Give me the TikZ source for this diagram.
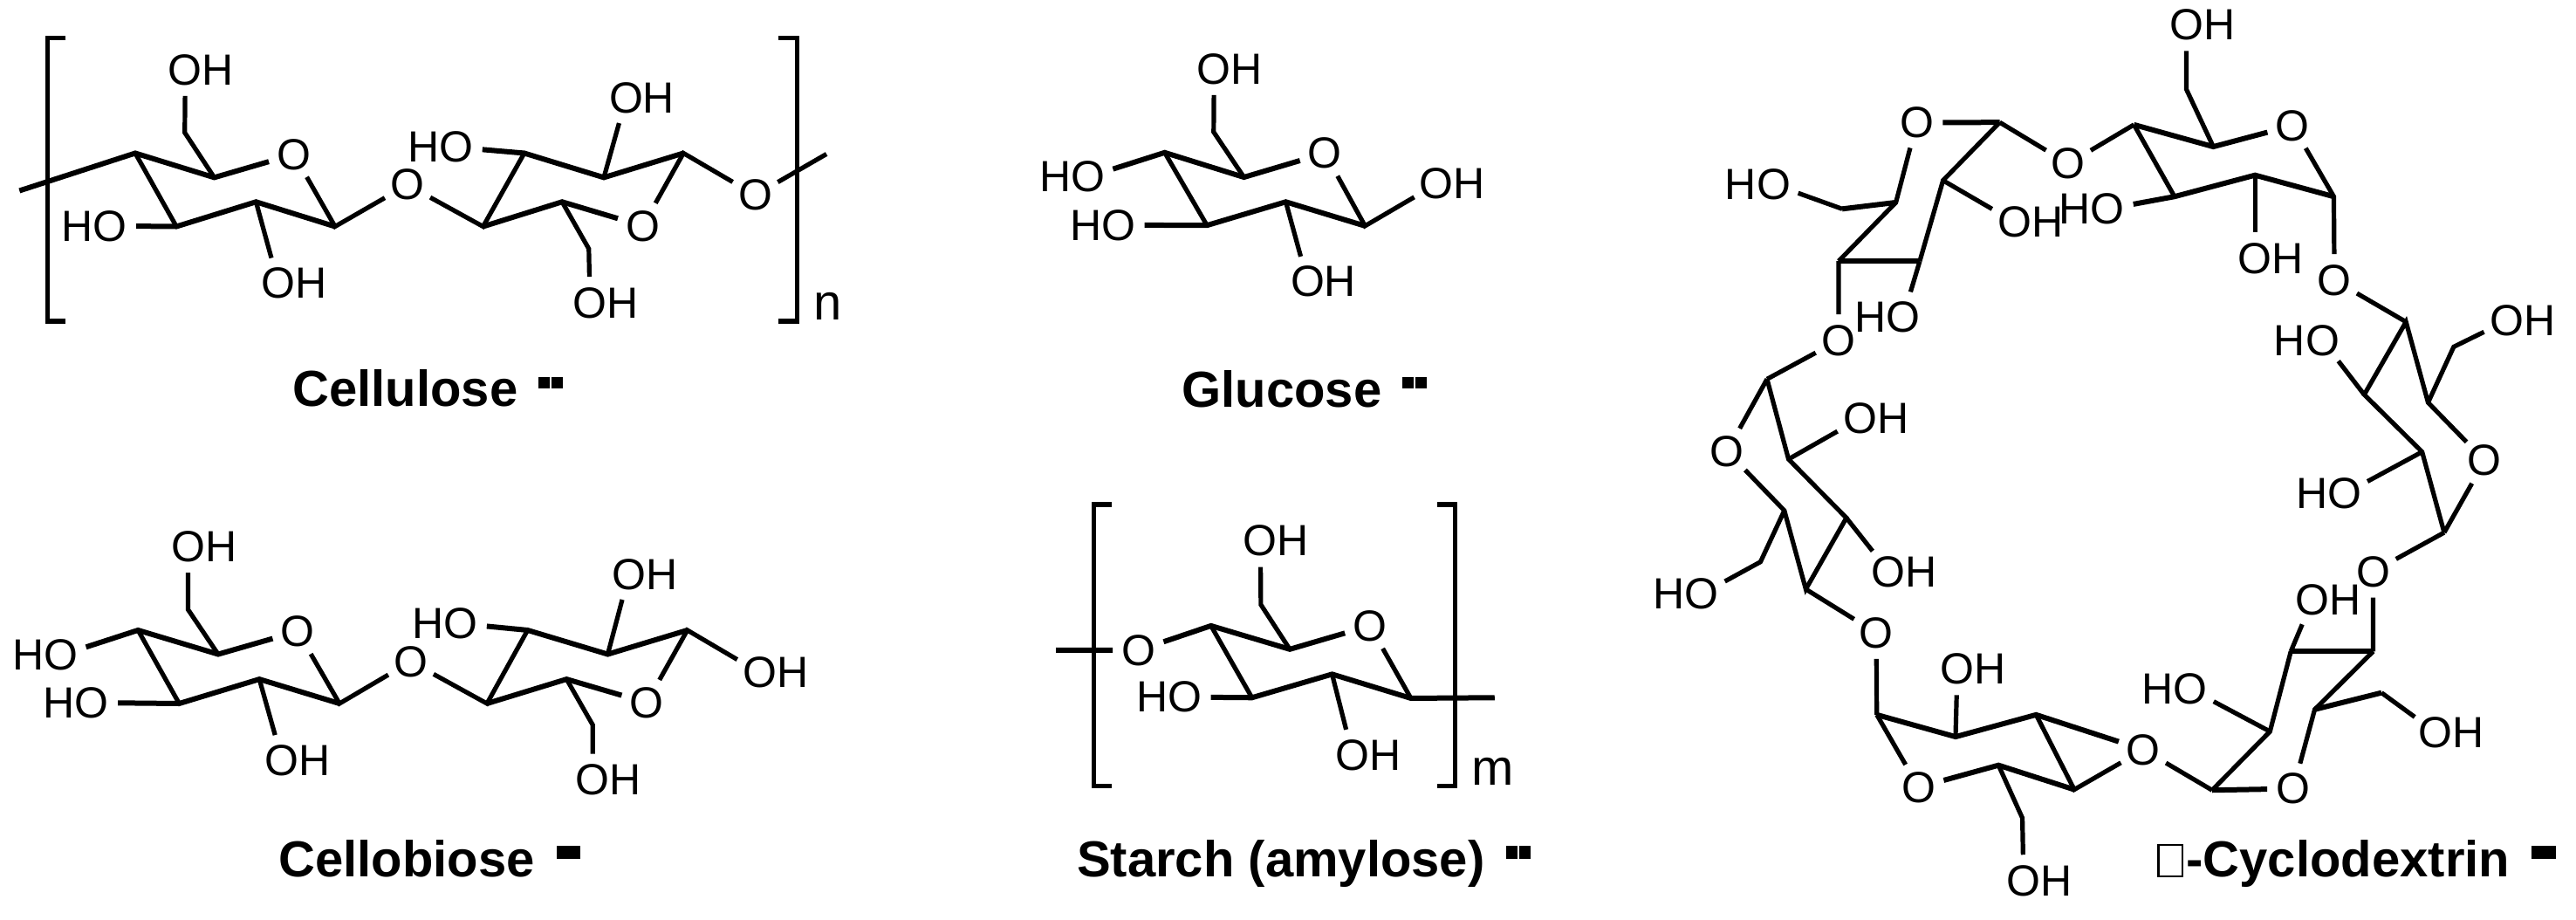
\documentclass[tikz,border=0pt]{standalone}
\usepackage{fontspec}
\setmainfont{Liberation Sans}
\tikzset{
  bond/.style={line width=2.6pt,line join=miter,line cap=butt},
  flat/.style={line width=3pt,line join=miter,line cap=butt},
  atom/.style={circle,minimum size=29.5pt,inner sep=0pt,font=\fontsize{25}{25}\selectfont},
  plain/.style={inner sep=0pt,anchor=base,font=\fontsize{29}{29}\selectfont},
  title/.style={inner sep=0pt,anchor=base,font=\bfseries\fontsize{29}{29}\selectfont}
}
\begin{document}
\begin{tikzpicture}
\path[fill=white,use as bounding box] (0pt,0pt) rectangle (1476pt,-527pt);

% ---------- Cellulose ----------
\begin{scope}[x=0.3189pt,y=-0.16807pt]
\coordinate (c1) at (243,522); \coordinate (c2) at (385,605); \coordinate (c3) at (602,772);
\coordinate (c4) at (460,688); \coordinate (c5) at (317,772); \coordinate (c6) at (332,452);
\coordinate (d1) at (868,772); \coordinate (d2) at (1010,688); \coordinate (d4) at (1228,522);
\coordinate (d5) at (1085,605); \coordinate (d6) at (942,522); \coordinate (d7) at (1058,848);
\coordinate (cfreeA) at (35,650); \coordinate (cfreeB) at (1485,525);
\node[atom] (cO1) at (528,526) {O};
\node[atom] (cO2) at (732,630) {O};
\node[atom] (cO3) at (1155,770) {O};
\node[atom] (cO4) at (1357,665) {O};
\node[atom] (cA) at (333,238) {O\rlap{H}};
\node[atom] (cB) at (198,770) {\llap{H}O};
\node[atom] (cC) at (500,965) {O\rlap{H}};
\node[atom] (cD) at (1060,1032) {O\rlap{H}};
\node[atom] (cE) at (1125,334) {O\rlap{H}};
\node[atom] (cF) at (820,502) {\llap{H}O};
\node[plain] (cn) at (1487,1090) {n};
\node[title] (cT) at (728,1385) {Cellulose};
\draw[flat] (cfreeA) -- (c1) -- (c2) -- (cO1);
\draw[flat] (cB) -- (c5) -- (c4) -- (c3);
\draw[flat] (cO3) -- (d2) -- (d1);
\draw[flat] (d4) -- (d5) -- (d6) -- (cF);
\draw[bond] (c1) -- (c5);
\draw[bond] (c2) -- (c6) -- (cA);
\draw[bond] (c4) -- (cC);
\draw[bond] (cO1) -- (c3) -- (cO2) -- (d1) -- (d6);
\draw[bond] (d2) -- (d7) -- (cD);
\draw[bond] (d5) -- (cE);
\draw[bond] (cO3) -- (d4) -- (cO4) -- (cfreeB);
\draw[bond] (118,130) -- (85,130) -- (85,1095) -- (118,1095);
\draw[bond] (1398,130) -- (1432,130) -- (1432,1095) -- (1398,1095);
\fill (968,1285) rectangle (988,1325);
\fill (991,1285) rectangle (1012,1325);
\end{scope}

% ---------- Cellobiose ----------
\begin{scope}[shift={(0pt,-263.5pt)},x=0.3189pt,y=-0.16807pt]
\coordinate (b1) at (248,580); \coordinate (b2) at (392,662); \coordinate (b3) at (610,830);
\coordinate (b4) at (466,747); \coordinate (b5) at (322,830); \coordinate (b6) at (338,510);
\coordinate (e1) at (875,830); \coordinate (e2) at (1018,747); \coordinate (e4) at (1235,580);
\coordinate (e5) at (1092,662); \coordinate (e6) at (948,580); \coordinate (e7) at (1065,903);
\node[atom] (bO1) at (535,584) {O};
\node[atom] (bO2) at (738,687) {O};
\node[atom] (bO3) at (1162,827) {O};
\node[atom] (bA) at (338,295) {O\rlap{H}};
\node[atom] (bB) at (110,665) {\llap{H}O};
\node[atom] (bC) at (165,827) {\llap{H}O};
\node[atom] (bD) at (507,1023) {O\rlap{H}};
\node[atom] (bE) at (1065,1090) {O\rlap{H}};
\node[atom] (bF) at (1130,390) {O\rlap{H}};
\node[atom] (bG) at (828,558) {\llap{H}O};
\node[atom] (bH) at (1365,725) {O\rlap{H}};
\node[title] (bT) at (731,1420) {Cellobiose};
\draw[flat] (bB) -- (b1) -- (b2) -- (bO1);
\draw[flat] (bC) -- (b5) -- (b4) -- (b3);
\draw[flat] (bO3) -- (e2) -- (e1);
\draw[flat] (e4) -- (e5) -- (e6) -- (bG);
\draw[bond] (b1) -- (b5);
\draw[bond] (b2) -- (b6) -- (bA);
\draw[bond] (b4) -- (bD);
\draw[bond] (bO1) -- (b3) -- (bO2) -- (e1) -- (e6);
\draw[bond] (e2) -- (e7) -- (bE);
\draw[bond] (e5) -- (bF);
\draw[bond] (bO3) -- (e4) -- (bH);
\fill (1000,1315) rectangle (1043,1360);
\end{scope}

% ---------- Glucose ----------
\begin{scope}[shift={(575pt,0pt)},x=0.2551pt,y=-0.16807pt]
\coordinate (g1) at (362,520); \coordinate (g2) at (540,604); \coordinate (g3) at (812,770);
\coordinate (g4) at (634,688); \coordinate (g5) at (457,768); \coordinate (g6) at (472,450);
\node[atom] (gO) at (722,522) {O};
\node[atom] (gA) at (473,235) {O\rlap{H}};
\node[atom] (gB) at (190,603) {\llap{H}O};
\node[atom] (gC) at (258,767) {\llap{H}O};
\node[atom] (gD) at (683,960) {O\rlap{H}};
\node[atom] (gE) at (973,627) {O\rlap{H}};
\node[title] (gT) at (625,1388) {Glucose};
\draw[flat] (gB) -- (g1) -- (g2) -- (gO);
\draw[flat] (gC) -- (g5) -- (g4) -- (g3);
\draw[bond] (g1) -- (g5);
\draw[bond] (g2) -- (g6) -- (gA);
\draw[bond] (g4) -- (gD);
\draw[bond] (gO) -- (g3) -- (gE);
\fill (895,1285) rectangle (922,1325);
\fill (925,1285) rectangle (951,1325);
\end{scope}

% ---------- Starch ----------
\begin{scope}[shift={(575pt,-263.5pt)},x=0.2551pt,y=-0.16807pt]
\coordinate (s1) at (466,565); \coordinate (s2) at (643,645); \coordinate (s3) at (915,812);
\coordinate (s4) at (738,730); \coordinate (s5) at (558,810); \coordinate (s6) at (578,493);
\coordinate (sfreeA) at (118,648); \coordinate (sfreeB) at (1103,810);
\node[atom] (sO1) at (823,565) {O};
\node[atom] (sO2) at (304,648) {O};
\node[atom] (sA) at (577,276) {O\rlap{H}};
\node[atom] (sB) at (407,808) {\llap{H}O};
\node[atom] (sC) at (784,1005) {O\rlap{H}};
\node[plain] (sm) at (1099,1108) {m};
\node[title] (sT) at (623,1420) {Starch (amylose)};
\draw[flat] (sfreeA) -- (sO2) -- (s1) -- (s2) -- (sO1);
\draw[flat] (sB) -- (s5) -- (s4) -- (s3) -- (sfreeB);
\draw[bond] (s1) -- (s5);
\draw[bond] (s2) -- (s6) -- (sA);
\draw[bond] (s4) -- (sC);
\draw[bond] (sO1) -- (s3);
\draw[bond] (243,152) -- (203,152) -- (203,1110) -- (243,1110);
\draw[bond] (975,152) -- (1015,152) -- (1015,1110) -- (975,1110);
\fill (1128,1315) rectangle (1155,1360);
\fill (1158,1315) rectangle (1184,1360);
\end{scope}

% ---------- Cyclodextrin ----------
\begin{scope}[shift={(940pt,0pt)},x=0.34184pt,y=-0.16807pt]
% ring A
\coordinate (ga1) at (827,425); \coordinate (ga2) at (960,500); \coordinate (ga3) at (1162,670);
\coordinate (ga4) at (1030,597); \coordinate (ga5) at (895,670); \coordinate (ga6) at (915,305);
\node[atom] (gaO) at (1093,428) {O};
\node[atom] (gaA) at (915,85) {O\rlap{H}};
\node[atom] (gaB) at (783,712) {\llap{H}O};
\node[atom] (gaC) at (1030,880) {O\rlap{H}};
\node[atom] (xO1) at (717,558) {O};
% ring B
\coordinate (h1) at (602,417); \coordinate (h2) at (428,690); \coordinate (h3) at (332,890);
\coordinate (h4) at (468,890); \coordinate (h5) at (507,615); \coordinate (h6) at (338,712);
\node[atom] (hO) at (463,418) {O};
\node[atom] (hA) at (223,628) {\llap{H}O};
\node[atom] (hB) at (627,757) {O\rlap{H}};
\node[atom] (hC) at (440,1080) {\llap{H}O};
\node[atom] (xO2) at (332,1160) {O};
% ring C
\coordinate (i1) at (212,1292); \coordinate (i2) at (241,1740); \coordinate (i3) at (277,2008);
\coordinate (i4) at (345,1765); \coordinate (i5) at (248,1565); \coordinate (i6) at (201,1915);
\node[atom] (iO) at (145,1538) {O};
\node[atom] (iA) at (368,1426) {O\rlap{H}};
\node[atom] (iB) at (103,2024) {\llap{H}O};
\node[atom] (iC) at (416,1948) {O\rlap{H}};
\node[atom] (xO3) at (395,2157) {O};
% ring D
\coordinate (j1) at (396,2436); \coordinate (j2) at (528,2511); \coordinate (j3) at (663,2436);
\coordinate (j4) at (727,2691); \coordinate (j5) at (600,2608); \coordinate (j7) at (640,2788);
\node[atom] (jO) at (466,2683) {O};
\node[atom] (jA) at (531,2280) {O\rlap{H}};
\node[atom] (jB) at (642,3002) {O\rlap{H}};
\node[atom] (xO4) at (843,2555) {O};
% ring E
\coordinate (k1) at (958,2693); \coordinate (k2) at (1130,2418); \coordinate (k3) at (1228,2220);
\coordinate (k4) at (1090,2220); \coordinate (k5) at (1055,2493); \coordinate (k6) at (1242,2361);
\node[atom] (kO) at (1094,2688) {O};
\node[atom] (kA) at (1333,2496) {O\rlap{H}};
\node[atom] (kB) at (922,2349) {\llap{H}O};
\node[atom] (kC) at (1126,2046) {O\rlap{H}};
\node[atom] (xO5) at (1228,1948) {O};
% ring F
\coordinate (m1) at (1347,1815); \coordinate (m2) at (1320,1372); \coordinate (m3) at (1310,1540);
\coordinate (m4) at (1213,1345); \coordinate (m5) at (1283,1097); \coordinate (m6) at (1363,1182);
\node[atom] (mO) at (1415,1570) {O};
\node[atom] (mA) at (1453,1092) {O\rlap{H}};
\node[atom] (mB) at (1143,1160) {\llap{H}O};
\node[atom] (mC) at (1180,1683) {\llap{H}O};
\node[atom] (xO6) at (1163,955) {O};
\node[title] (xT) at (1186,2988) {-Cyclodextrin};
% bonds
\draw[flat] (ga1) -- (ga2) -- (gaO);
\draw[flat] (gaB) -- (ga5) -- (ga4) -- (ga3);
\draw[bond] (ga1) -- (ga5);
\draw[bond] (ga2) -- (ga6) -- (gaA);
\draw[bond] (ga4) -- (gaC);
\draw[bond] (gaO) -- (ga3) -- (xO6);
\draw[bond] (ga1) -- (xO1) -- (h1);
\draw[flat] (hO) -- (h1);
\draw[bond] (hO) -- (h2) -- (h3);
\draw[flat] (h3) -- (h4);
\draw[bond] (h4) -- (h5) -- (h1);
\draw[flat] (h2) -- (h6);
\draw[bond] (h6) -- (hA);
\draw[bond] (h5) -- (hB);
\draw[bond] (h4) -- (hC);
\draw[bond] (h3) -- (xO2) -- (i1);
\draw[bond] (i1) -- (iO) -- (i2) -- (i3) -- (i4) -- (i5) -- (i1);
\draw[bond] (i5) -- (iA);
\draw[bond] (i2) -- (i6) -- (iB);
\draw[bond] (i4) -- (iC);
\draw[bond] (i3) -- (xO3) -- (j1);
\draw[flat] (j1) -- (j2) -- (j3) -- (xO4);
\draw[bond] (j3) -- (j4) -- (xO4);
\draw[flat] (j4) -- (j5) -- (jO);
\draw[bond] (jO) -- (j1);
\draw[bond] (j2) -- (jA);
\draw[bond] (j5) -- (j7) -- (jB);
\draw[bond] (xO4) -- (k1);
\draw[flat] (k1) -- (kO);
\draw[bond] (kO) -- (k2) -- (k3);
\draw[flat] (k3) -- (k4);
\draw[bond] (k4) -- (k5) -- (k1);
\draw[flat] (k2) -- (k6);
\draw[bond] (k6) -- (kA);
\draw[bond] (k5) -- (kB);
\draw[bond] (k4) -- (kC);
\draw[bond] (k3) -- (xO5) -- (m1);
\draw[bond] (m1) -- (mO) -- (m2) -- (m5) -- (m4) -- (m3) -- (m1);
\draw[bond] (m5) -- (xO6);
\draw[bond] (m2) -- (m6) -- (mA);
\draw[bond] (m4) -- (mB);
\draw[bond] (m3) -- (mC);
\draw[line width=1.2pt] (868,2880) rectangle (908,2986);
\fill (1493,2883) rectangle (1535,2928);
\end{scope}
\end{tikzpicture}
\end{document}
